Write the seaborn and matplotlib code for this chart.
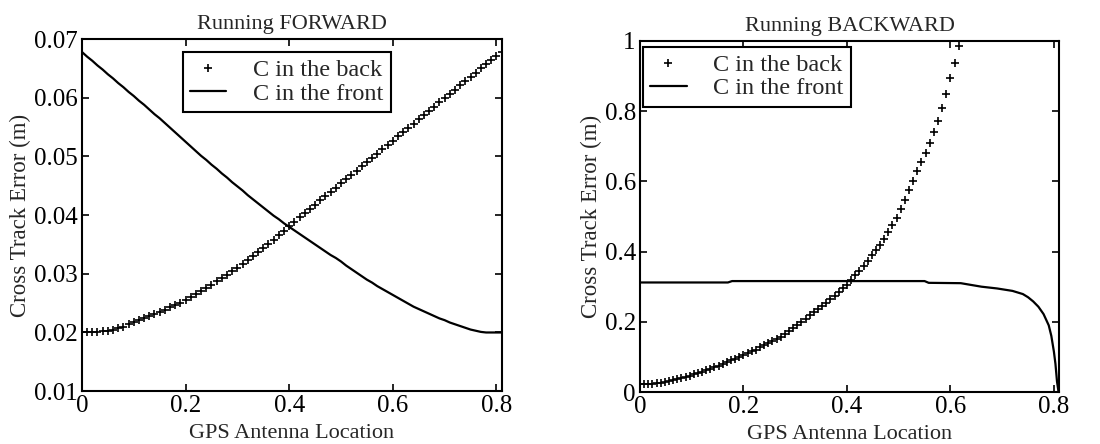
import matplotlib
matplotlib.use("Agg")
import matplotlib.pyplot as plt
import seaborn as sns
import pandas as pd

# ---------------- data ----------------
titles = ["Running FORWARD", "Running BACKWARD"]
xlabel = "GPS Antenna Location"
ylabel = "Cross Track Error (m)"
series_names = ["C in the back", "C in the front"]

x_ticks = [0, 0.2, 0.4, 0.6, 0.8]
x_ticklabels = ["0", "0.2", "0.4", "0.6", "0.8"]
fwd_yticks = [0.01, 0.02, 0.03, 0.04, 0.05, 0.06, 0.07]
fwd_yticklabels = ["0.01", "0.02", "0.03", "0.04", "0.05", "0.06", "0.07"]
bwd_yticks = [0, 0.2, 0.4, 0.6, 0.8, 1.0]
bwd_yticklabels = ["0", "0.2", "0.4", "0.6", "0.8", "1"]

# forward run
fwd_x = [0.00, 0.01, 0.02, 0.03, 0.04, 0.05, 0.06, 0.07, 0.08, 0.09,
         0.10, 0.11, 0.12, 0.13, 0.14, 0.15, 0.16, 0.17, 0.18, 0.19,
         0.20, 0.21, 0.22, 0.23, 0.24, 0.25, 0.26, 0.27, 0.28, 0.29,
         0.30, 0.31, 0.32, 0.33, 0.34, 0.35, 0.36, 0.37, 0.38, 0.39,
         0.40, 0.41, 0.42, 0.43, 0.44, 0.45, 0.46, 0.47, 0.48, 0.49,
         0.50, 0.51, 0.52, 0.53, 0.54, 0.55, 0.56, 0.57, 0.58, 0.59,
         0.60, 0.61, 0.62, 0.63, 0.64, 0.65, 0.66, 0.67, 0.68, 0.69,
         0.70, 0.71, 0.72, 0.73, 0.74, 0.75, 0.76, 0.77, 0.78, 0.79,
         0.80, 0.81]
fwd_back = [0.0200, 0.0200, 0.0201, 0.0201, 0.0202, 0.0203, 0.0205, 0.0207, 0.0210, 0.0214,
            0.0218, 0.0221, 0.0224, 0.0228, 0.0231, 0.0235, 0.0239, 0.0243, 0.0247, 0.0251,
            0.0256, 0.0261, 0.0266, 0.0271, 0.0276, 0.0281, 0.0287, 0.0292, 0.0298, 0.0304,
            0.0310, 0.0316, 0.0323, 0.0330, 0.0337, 0.0344, 0.0351, 0.0358, 0.0366, 0.0373,
            0.0381, 0.0388, 0.0396, 0.0403, 0.0411, 0.0418, 0.0425, 0.0433, 0.0440, 0.0447,
            0.0455, 0.0462, 0.0469, 0.0476, 0.0484, 0.0491, 0.0498, 0.0505, 0.0513, 0.0520,
            0.0527, 0.0534, 0.0542, 0.0549, 0.0556, 0.0563, 0.0571, 0.0578, 0.0585, 0.0592,
            0.0600, 0.0607, 0.0614, 0.0621, 0.0628, 0.0636, 0.0643, 0.0650, 0.0657, 0.0664,
            0.0671, 0.0678]
fwd_front = [0.0678, 0.0670, 0.0663, 0.0655, 0.0648, 0.0640, 0.0633, 0.0625, 0.0618, 0.0610,
             0.0603, 0.0595, 0.0588, 0.0580, 0.0572, 0.0565, 0.0557, 0.0549, 0.0541, 0.0533,
             0.0525, 0.0517, 0.0509, 0.0501, 0.0494, 0.0486, 0.0479, 0.0471, 0.0464, 0.0456,
             0.0449, 0.0442, 0.0434, 0.0427, 0.0420, 0.0413, 0.0406, 0.0399, 0.0393, 0.0386,
             0.0380, 0.0374, 0.0368, 0.0362, 0.0356, 0.0350, 0.0344, 0.0338, 0.0332, 0.0327,
             0.0321, 0.0314, 0.0308, 0.0302, 0.0296, 0.0290, 0.0285, 0.0279, 0.0274, 0.0269,
             0.0264, 0.0259, 0.0254, 0.0249, 0.0244, 0.0240, 0.0236, 0.0232, 0.0228, 0.0224,
             0.0221, 0.0217, 0.0214, 0.0211, 0.0208, 0.0205, 0.0203, 0.0201, 0.0200, 0.0200,
             0.0200, 0.0200]

# backward run
bwd_x_back = [0.000, 0.008, 0.016, 0.024, 0.032, 0.040, 0.048, 0.056, 0.064, 0.072,
              0.080, 0.088, 0.096, 0.104, 0.112, 0.120, 0.128, 0.136, 0.144, 0.152,
              0.160, 0.168, 0.176, 0.184, 0.192, 0.200, 0.208, 0.216, 0.224, 0.232,
              0.240, 0.248, 0.256, 0.264, 0.272, 0.280, 0.288, 0.296, 0.304, 0.312,
              0.320, 0.328, 0.336, 0.344, 0.352, 0.360, 0.368, 0.376, 0.384, 0.392,
              0.400, 0.408, 0.416, 0.424, 0.432, 0.440, 0.448, 0.456, 0.464, 0.472,
              0.480, 0.488, 0.496, 0.504, 0.512, 0.520, 0.528, 0.536, 0.544, 0.552,
              0.560, 0.568, 0.576, 0.584, 0.592, 0.600, 0.608, 0.616]
bwd_back = [0.022, 0.022, 0.023, 0.024, 0.025, 0.027, 0.029, 0.031, 0.033, 0.036,
            0.039, 0.042, 0.046, 0.050, 0.054, 0.058, 0.062, 0.066, 0.071, 0.075,
            0.080, 0.085, 0.090, 0.095, 0.100, 0.105, 0.110, 0.116, 0.121, 0.127,
            0.133, 0.139, 0.145, 0.152, 0.158, 0.165, 0.174, 0.183, 0.192, 0.200,
            0.209, 0.218, 0.227, 0.236, 0.245, 0.254, 0.264, 0.274, 0.285, 0.295,
            0.306, 0.319, 0.332, 0.345, 0.359, 0.374, 0.389, 0.404, 0.420, 0.437,
            0.455, 0.475, 0.496, 0.522, 0.548, 0.575, 0.602, 0.629, 0.654, 0.681,
            0.710, 0.740, 0.773, 0.808, 0.850, 0.894, 0.937, 0.985]
bwd_x_front = [0.000, 0.170, 0.178, 0.550, 0.558, 0.620, 0.640, 0.660, 0.690, 0.720,
               0.740, 0.750, 0.760, 0.770, 0.780, 0.790, 0.795, 0.800, 0.803, 0.806, 0.809]
bwd_front = [0.312, 0.312, 0.316, 0.316, 0.311, 0.310, 0.305, 0.300, 0.295, 0.288,
             0.279, 0.270, 0.258, 0.243, 0.222, 0.190, 0.160, 0.115, 0.080, 0.030, 0.000]

# ---------------- style ----------------
sns.set_style("ticks")
plt.rcParams["font.family"] = ["Liberation Serif", "DejaVu Serif"]

fig = plt.figure(figsize=(11, 4.44), dpi=100)
ax1 = fig.add_axes([0.0745, 0.119, 0.3815, 0.793])
ax2 = fig.add_axes([0.5818, 0.117, 0.381, 0.791])

def draw(ax, xb, yb, xf, yf):
    dfb = pd.DataFrame({"x": xb, "y": yb})
    dff = pd.DataFrame({"x": xf, "y": yf})
    sns.lineplot(data=dfb, x="x", y="y", ax=ax, color="black", marker="+",
                 linestyle="", markersize=6, markeredgewidth=1.2,
                 markeredgecolor="black", markerfacecolor="black",
                 label=series_names[0], estimator=None, sort=False)
    sns.lineplot(data=dff, x="x", y="y", ax=ax, color="black", linewidth=1.6,
                 label=series_names[1], estimator=None, sort=False)

draw(ax1, fwd_x, fwd_back, fwd_x, fwd_front)
draw(ax2, bwd_x_back, bwd_back, bwd_x_front, bwd_front)

for ax, title, yt, ytl, ylim in [
        (ax1, titles[0], fwd_yticks, fwd_yticklabels, (0.01, 0.07)),
        (ax2, titles[1], bwd_yticks, bwd_yticklabels, (0.0, 1.0))]:
    ax.set_xlim(0, 0.81)
    ax.set_ylim(*ylim)
    ax.set_xticks(x_ticks)
    ax.set_xticklabels(x_ticklabels)
    ax.set_yticks(yt)
    ax.set_yticklabels(ytl)
    ax.set_title(title, fontsize=16, pad=7)
    ax.set_xlabel(xlabel, fontsize=16, labelpad=5)
    ax.set_ylabel(ylabel, fontsize=16.5, labelpad=2)
    ax.tick_params(direction="in", top=True, right=True, length=5, width=1.2,
                   labelsize=18, pad=3, colors="black")
    for s in ax.spines.values():
        s.set_linewidth(1.5)
        s.set_color("black")

leg_kw = dict(frameon=True, fancybox=False, shadow=False, fontsize=17.5,
              borderpad=0.3, labelspacing=0.05, handlelength=1.5,
              handletextpad=1.1, borderaxespad=0.0)
l1 = ax1.legend(loc="upper left", bbox_to_anchor=(0.24, 0.963), **leg_kw)
l2 = ax2.legend(loc="upper left", bbox_to_anchor=(0.007, 0.983), **leg_kw)
for l in (l1, l2):
    fr = l.get_frame()
    fr.set_edgecolor("black")
    fr.set_linewidth(1.5)
    fr.set_alpha(1)

fig.savefig("out.png", dpi=100, facecolor="white")
